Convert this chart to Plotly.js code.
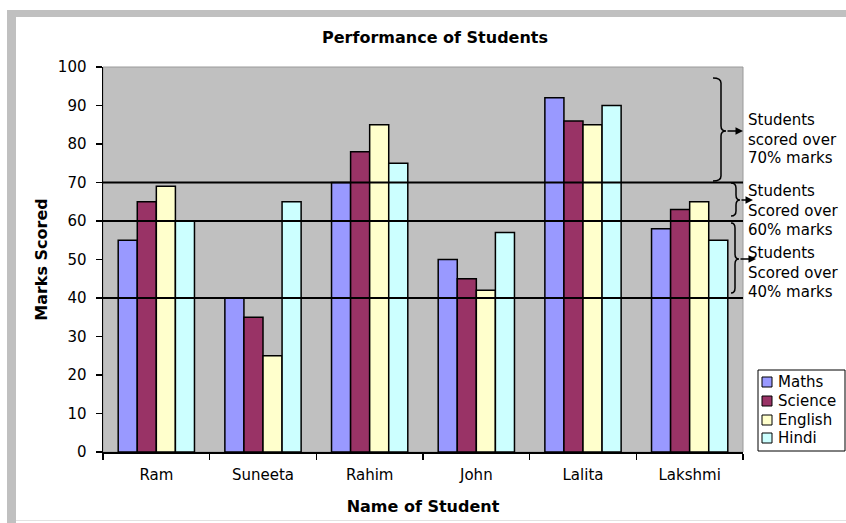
<!DOCTYPE html>
<html><head><meta charset="utf-8">
<script src="https://cdn.plot.ly/plotly-3.0.1.min.js"></script>
<style>
html,body{margin:0;padding:0;background:#fff;overflow:hidden;}
#chart{width:846px;height:523px;}
.band{position:absolute;background:#c0c0c0;pointer-events:none;}
</style></head><body>
<div id="chart"></div>
<div class="band" style="left:7px;top:10px;width:9px;height:513px"></div>
<div class="band" style="left:7px;top:10px;width:839px;height:7px"></div>
<div style="position:absolute;left:16px;top:520px;width:830px;height:1px;background:#e2e2e2"></div>
<script>
// ---- data ----
const students = ['Ram', 'Suneeta', 'Rahim', 'John', 'Lalita', 'Lakshmi'];
const maths   = [55, 40, 70, 50, 92, 58];
const science = [65, 35, 78, 45, 86, 63];
const english = [69, 25, 85, 42, 85, 65];
const hindi   = [60, 65, 75, 57, 90, 55];
const subjects = ['Maths', 'Science', 'English', 'Hindi'];
const subjectColors = ['#9999FF', '#993366', '#FFFFCC', '#CCFFFF'];
const thresholds = [70, 60, 40];
const bandLabels = [
  ['Students', 'scored over', '70% marks'],
  ['Students', 'Scored over', '60% marks'],
  ['Students', 'Scored over', '40% marks']
];
const yTicks = [0, 10, 20, 30, 40, 50, 60, 70, 80, 90, 100];

// ---- layout helpers (pixel -> paper) ----
const L = 103, R = 743, T = 67, B = 452;
const px = x => (x - L) / (R - L);
const py = y => (B - y) / (B - T);
const FONT = 'DejaVu Sans, Arial, sans-serif';

const series = [maths, science, english, hindi];
const traces = series.map((vals, i) => ({
  type: 'bar', name: subjects[i], x: students, y: vals,
  marker: {color: subjectColors[i], line: {color: '#000', width: 1.5}},
  showlegend: false, hoverinfo: 'x+y+name'
}));

const shapes = [];
const annotations = [];

// plot-area frame (thin gray)
shapes.push({type: 'rect', xref: 'paper', yref: 'paper', x0: 0, x1: 1, y0: 0, y1: 1,
  line: {color: '#9a9a9a', width: 1}, layer: 'below'});

// threshold lines
thresholds.forEach(t => shapes.push({type: 'line', xref: 'paper', yref: 'y',
  x0: 0, x1: 1, y0: t, y1: t, line: {color: '#000', width: 2}}));

// braces with arrows (pixel geometry)
const braces = [
  {xl: 713, xm: 721, xr: 726, top: 78,  tip: 131, bot: 181, to: 743},
  {xl: 731, xm: 736, xr: 740, top: 183, tip: 200, bot: 216, to: 753},
  {xl: 731, xm: 735, xr: 739, top: 223, tip: 259, bot: 293, to: 756}
];
const f = v => v.toFixed(5);
braces.forEach(b => {
  const h = 5;
  const P = (x, y) => f(px(x)) + ',' + f(py(y));
  const path = 'M' + P(b.xl, b.top) +
    ' Q' + P(b.xm, b.top) + ' ' + P(b.xm, b.top + h) +
    ' L' + P(b.xm, b.tip - h) +
    ' Q' + P(b.xm, b.tip) + ' ' + P(b.xr, b.tip) +
    ' Q' + P(b.xm, b.tip) + ' ' + P(b.xm, b.tip + h) +
    ' L' + P(b.xm, b.bot - h) +
    ' Q' + P(b.xm, b.bot) + ' ' + P(b.xl, b.bot);
  shapes.push({type: 'path', xref: 'paper', yref: 'paper', path: path,
    line: {color: '#000', width: 1.5}});
  annotations.push({xref: 'paper', yref: 'paper', x: px(b.to), y: py(b.tip),
    ax: -(b.to - b.xr), ay: 0, text: '', showarrow: true, arrowhead: 2,
    arrowsize: 1, arrowwidth: 1.5, arrowcolor: '#000', standoff: 0});
});

// brace labels
const labelCenters = [[120, 140, 158], [191, 211, 230], [253, 273, 292]];
bandLabels.forEach((lines, i) => lines.forEach((txt, j) => annotations.push({
  xref: 'paper', yref: 'paper', x: px(746), y: py(labelCenters[i][j]),
  xanchor: 'left', yanchor: 'middle', text: txt, showarrow: false,
  font: {family: FONT, size: 15, color: '#000'}
})));

// legend (box, swatches, names)
shapes.push({type: 'rect', xref: 'paper', yref: 'paper',
  x0: px(758), x1: px(845), y0: py(451), y1: py(370),
  fillcolor: '#fff', line: {color: '#000', width: 1}});
const legY = [382, 401, 420, 438];
subjects.forEach((s, i) => {
  shapes.push({type: 'rect', xref: 'paper', yref: 'paper',
    x0: px(762), x1: px(772), y0: py(legY[i] + 5), y1: py(legY[i] - 5),
    fillcolor: subjectColors[i], line: {color: '#000', width: 1}});
  annotations.push({xref: 'paper', yref: 'paper', x: px(776), y: py(legY[i]),
    xanchor: 'left', yanchor: 'middle', text: s, showarrow: false,
    font: {family: FONT, size: 15, color: '#000'}});
});

const layout = {
  width: 846, height: 523,
  margin: {l: L, r: 846 - R, t: T, b: 523 - B, pad: 0},
  paper_bgcolor: '#fff', plot_bgcolor: '#c0c0c0',
  font: {family: FONT, size: 15, color: '#000'},
  title: {text: 'Performance of Students', font: {family: FONT, size: 16, weight: 'bold', color: '#000'},
    x: 435 / 846, xref: 'container', xanchor: 'center', y: 1 - 37 / 523, yref: 'container', yanchor: 'middle'},
  barmode: 'group', bargap: 0.285, bargroupgap: 0,
  showlegend: false,
  xaxis: {
    type: 'category', showline: true, linecolor: '#000', linewidth: 1.5,
    ticks: 'outside', tickson: 'boundaries', ticklen: 6, tickcolor: '#000', tickwidth: 1.5,
    showgrid: false, zeroline: false, ticklabelstandoff: 8,
    tickfont: {family: FONT, size: 15, color: '#000'},
    title: {text: 'Name of Student', font: {family: FONT, size: 16, weight: 'bold', color: '#000'}, standoff: 18}
  },
  yaxis: {
    range: [0, 100], tickvals: yTicks, showline: true, linecolor: '#000', linewidth: 1.5,
    ticks: 'outside', ticklen: 6, tickcolor: '#000', tickwidth: 1.5,
    showgrid: false, zeroline: false, ticklabelstandoff: 6,
    tickfont: {family: FONT, size: 15, color: '#000'},
    title: {text: 'Marks Scored', font: {family: FONT, size: 16, weight: 'bold', color: '#000'}, standoff: 6}
  },
  shapes: shapes,
  annotations: annotations
};

Plotly.newPlot('chart', traces, layout, {displayModeBar: false, staticPlot: true});
</script>
</body></html>
